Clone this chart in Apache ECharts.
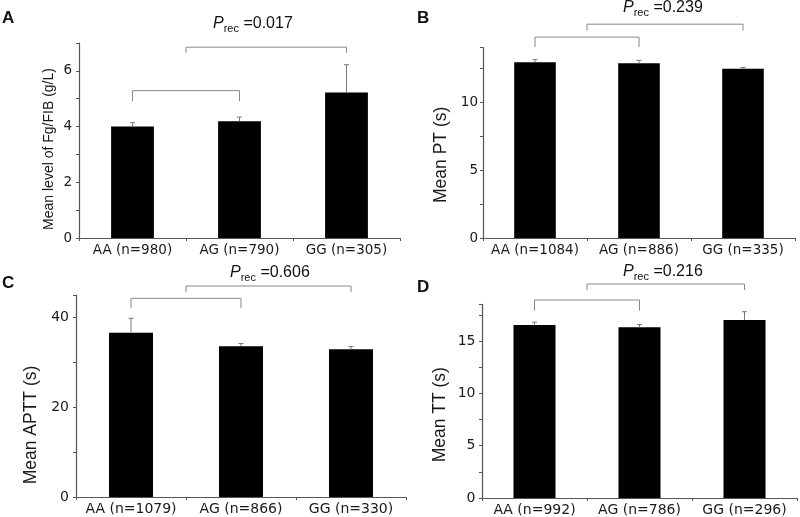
<!DOCTYPE html>
<html><head><meta charset="utf-8">
<script src="https://cdn.jsdelivr.net/npm/echarts@6/dist/echarts.min.js"></script>
<style>html,body{margin:0;padding:0;background:#fff}#c{width:800px;height:517px}</style>
</head><body><div id="c"></div>
<script>
// ---- data ----
const catA = ['AA (n=980)', 'AG (n=790)', 'GG (n=305)'];
const meanA = [4.0, 4.19, 5.22];
const errA = [0.14, 0.15, 1.0];
const pA = '0.017';
const bracketsA = [[0, 0, 1, 1, 5.29, 4.91], [0, 1, 2, 2, 6.85, 6.65]];

const catB = ['AA (n=1084)', 'AG (n=886)', 'GG (n=335)'];
const meanB = [12.93, 12.85, 12.46];
const errB = [0.19, 0.22, 0.08];
const pB = '0.239';
const bracketsB = [[0, 0, 1, 1, 14.78, 14.05], [0, 1, 2, 2, 15.73, 15.27]];

const catC = ['AA (n=1079)', 'AG (n=866)', 'GG (n=330)'];
const meanC = [36.6, 33.6, 32.9];
const errC = [3.2, 0.6, 0.6];
const pC = '0.606';
const bracketsC = [[0, 0, 1, 1, 44.26, 42.03], [0, 1, 2, 2, 47.0, 45.6]];

const catD = ['AA (n=992)', 'AG (n=786)', 'GG (n=296)'];
const meanD = [16.54, 16.32, 17.0];
const errD = [0.26, 0.25, 0.8];
const pD = '0.216';
const bracketsD = [[0, 0, 1, 1, 18.92, 17.9], [0, 1, 2, 2, 20.45, 19.88]];

const yNames = ['Mean level of Fg/FIB (g/L)', 'Mean PT (s)', 'Mean APTT (s)', 'Mean TT (s)'];
const yMax = [7, 14, 45, 18.5];
const yStep = [1, 2.5, 10, 2.5];
const yLabelStep = [2, 5, 20, 5];
const panelLetters = ['A', 'B', 'C', 'D'];

// ---- layout ----
const panels = [
  {cat: catA, mean: meanA, err: errA, p: pA, br: bracketsA,
   grid: {left: 79, top: 43, right: 400, bottom: 279}, nameSize: 14, nameGap: 23, namePad: 17,
   letter: {left: 2, top: 9}, ptext: {left: 213, top: 14}, tickSize: 13.5, ylMargin: 7},
  {cat: catB, mean: meanB, err: errB, p: pB, br: bracketsB,
   grid: {left: 483, top: 47.7, right: 5, bottom: 279}, nameSize: 17.5, nameGap: 33, namePad: 24,
   letter: {left: 417, top: 9.5}, ptext: {left: 623, top: -2}, tickSize: 13.5, ylMargin: 5},
  {cat: catC, mean: meanC, err: errC, p: pC, br: bracketsC,
   grid: {left: 76, top: 295, right: 394, bottom: 20}, nameSize: 17.5, nameGap: 36, namePad: 58,
   letter: {left: 2, top: 274}, ptext: {left: 230, top: 263}, tickSize: 14, ylMargin: 7},
  {cat: catD, mean: meanD, err: errD, p: pD, br: bracketsD,
   grid: {left: 482, top: 304.4, right: 3, bottom: 19}, nameSize: 17.5, nameGap: 32.5, namePad: 27,
   letter: {left: 417, top: 278.5}, ptext: {left: 623, top: 262}, tickSize: 14, ylMargin: 6.5}
];

const AXIS = '#555';
const TXT = '#1a1a1a';

function errRender(params, api) {
  const i = api.value(0), m = api.value(1), e = api.value(2);
  const p0 = api.coord([i, m]);
  const p1 = api.coord([i, m + e]);
  return {type: 'group', children: [
    {type: 'line', shape: {x1: p0[0], y1: p0[1], x2: p1[0], y2: p1[1]}, style: {stroke: '#777', lineWidth: 1}},
    {type: 'line', shape: {x1: p1[0] - 2.5, y1: p1[1], x2: p1[0] + 2.5, y2: p1[1]}, style: {stroke: '#777', lineWidth: 1}}
  ]};
}
function bracketRender(params, api) {
  const yTop = api.value(4), yLeg = api.value(5);
  const xl = (api.coord([api.value(0), yTop])[0] + api.coord([api.value(1), yTop])[0]) / 2;
  const xr = (api.coord([api.value(2), yTop])[0] + api.coord([api.value(3), yTop])[0]) / 2;
  const yt = api.coord([0, yTop])[1];
  const yl = api.coord([0, yLeg])[1];
  return {type: 'polyline', shape: {points: [[xl, yl], [xl, yt], [xr, yt], [xr, yl]]},
    style: {stroke: '#888', lineWidth: 1, fill: null}};
}

const option = {animation: false, backgroundColor: '#fff', grid: [], xAxis: [], yAxis: [], series: [], title: []};

panels.forEach((pn, k) => {
  option.grid.push(Object.assign({containLabel: false}, pn.grid));
  option.xAxis.push({
    type: 'category', gridIndex: k, data: pn.cat, boundaryGap: true,
    axisLine: {lineStyle: {color: AXIS, width: 1.2}},
    axisTick: {show: true, length: 3, lineStyle: {color: AXIS}},
    axisLabel: {interval: 0, margin: 5, color: TXT, fontSize: pn.tickSize, fontFamily: 'DejaVu Sans'},
    splitLine: {show: false}
  });
  option.yAxis.push({
    type: 'value', gridIndex: k, min: 0, max: yMax[k], interval: yStep[k],
    name: yNames[k], nameLocation: 'middle', nameGap: pn.nameGap,
    nameTextStyle: {fontSize: pn.nameSize, color: TXT, fontFamily: 'Liberation Sans', padding: [0, pn.namePad, 0, 0]},
    axisLine: {show: true, lineStyle: {color: AXIS, width: 1.2}},
    axisTick: {show: true, length: 3, lineStyle: {color: AXIS}},
    axisLabel: {margin: pn.ylMargin, color: TXT, fontSize: pn.tickSize, fontFamily: 'DejaVu Sans',
      formatter: v => (Math.abs(v / yLabelStep[k] - Math.round(v / yLabelStep[k])) < 1e-6 && v <= yMax[k] - 1e-6 || v === 0) ? String(v) : ''},
    splitLine: {show: false}
  });
  option.series.push({
    type: 'bar', xAxisIndex: k, yAxisIndex: k, data: pn.mean, barWidth: '40%',
    itemStyle: {color: '#000'}, z: 2
  });
  option.series.push({
    type: 'custom', xAxisIndex: k, yAxisIndex: k, renderItem: errRender, z: 3,
    encode: {x: 0, y: 1},
    data: pn.mean.map((m, i) => [i, m, pn.err[i]])
  });
  option.series.push({
    type: 'custom', xAxisIndex: k, yAxisIndex: k, renderItem: bracketRender, z: 3, clip: false,
    encode: {x: 0, y: 4},
    data: pn.br
  });
  option.title.push({
    text: panelLetters[k], left: pn.letter.left, top: pn.letter.top, padding: 0,
    textStyle: {fontSize: 17, fontWeight: 'bold', color: '#111', fontFamily: 'Liberation Sans', lineHeight: 18}
  });
  option.title.push({
    text: '{p|P}{s|rec}{v| =' + pn.p + '}', left: pn.ptext.left, top: pn.ptext.top, padding: 0,
    textStyle: {fontWeight: 'normal', rich: {
      p: {fontSize: 16, fontStyle: 'italic', fontWeight: 'normal', color: '#111', fontFamily: 'Liberation Sans', lineHeight: 20, verticalAlign: 'middle'},
      s: {fontSize: 11, fontWeight: 'normal', color: '#111', fontFamily: 'Liberation Sans', lineHeight: 10, verticalAlign: 'bottom'},
      v: {fontSize: 16, fontWeight: 'normal', color: '#111', fontFamily: 'Liberation Sans', lineHeight: 20, verticalAlign: 'middle'}
    }}
  });
});

const chart = echarts.init(document.getElementById('c'), null, {renderer: 'canvas'});
chart.setOption(option);
</script>
</body></html>
